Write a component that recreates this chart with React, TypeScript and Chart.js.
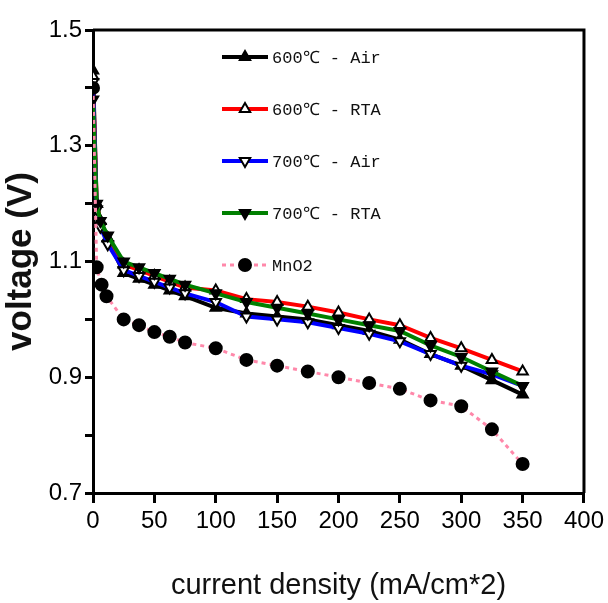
import React, { useEffect, useRef } from 'react';
import { Chart, registerables } from 'chart.js';
import { drawPoint } from 'chart.js/helpers';

Chart.register(...registerables);

// current density (mA/cm^2)
const currents = [0, 3, 6, 12, 25, 37.5, 50, 62.5, 75, 100, 125, 150, 175, 200, 225, 250, 275, 300, 325, 350];
const mno2Currents = [0, 3, 7, 11, 25, 37.5, 50, 62.5, 75, 100, 125, 150, 175, 200, 225, 250, 275, 300, 325, 350];

const v600Air = [1.43, 1.2, 1.17, 1.14, 1.08, 1.07, 1.06, 1.05, 1.04, 1.02, 1.01, 1.005, 1.0, 0.99, 0.98, 0.965, 0.94, 0.92, 0.895, 0.87];
const v600RTA = [1.42, 1.2, 1.17, 1.14, 1.095, 1.085, 1.075, 1.065, 1.055, 1.05, 1.035, 1.03, 1.022, 1.012, 1.0, 0.99, 0.968, 0.95, 0.93, 0.91];
const v700Air = [1.41, 1.19, 1.16, 1.13, 1.085, 1.075, 1.065, 1.055, 1.045, 1.03, 1.005, 1.0, 0.995, 0.985, 0.975, 0.962, 0.94, 0.92, 0.905, 0.885];
const v700RTA = [1.38, 1.2, 1.17, 1.145, 1.1, 1.09, 1.08, 1.07, 1.06, 1.045, 1.03, 1.02, 1.01, 1.0, 0.99, 0.98, 0.955, 0.935, 0.91, 0.885];
const vMnO2 = [1.4, 1.09, 1.06, 1.04, 1.0, 0.99, 0.978, 0.97, 0.96, 0.95, 0.93, 0.92, 0.91, 0.9, 0.89, 0.88, 0.86, 0.85, 0.81, 0.75];

const seriesLabels = ['600℃ - Air', '600℃ - RTA', '700℃ - Air', '700℃ - RTA', 'MnO2'];
const yLabeled = [0.7, 0.9, 1.1, 1.3, 1.5];

const toXY = (xs: number[], ys: number[]) => xs.map((x, i) => ({ x, y: ys[i] }));

const legendPlugin = {
  id: 'insideLegend',
  afterDraw(chart: any) {
    const { ctx, chartArea } = chart;
    const x0 = chartArea.left + 129;
    const y0 = chartArea.top + 27;
    const gap = 52;
    ctx.save();
    chart.data.datasets.forEach((ds: any, i: number) => {
      const y = y0 + i * gap;
      ctx.save();
      ctx.strokeStyle = ds.borderColor;
      ctx.lineWidth = ds.borderWidth;
      ctx.setLineDash(ds.borderDash || []);
      ctx.beginPath();
      ctx.moveTo(x0, y);
      ctx.lineTo(x0 + 46, y);
      ctx.stroke();
      ctx.restore();
      ctx.save();
      ctx.fillStyle = ds.pointBackgroundColor;
      ctx.strokeStyle = ds.pointBorderColor;
      ctx.lineWidth = ds.pointBorderWidth;
      drawPoint(ctx, { pointStyle: ds.pointStyle, rotation: ds.pointRotation || 0, radius: ds.pointRadius, borderWidth: ds.pointBorderWidth }, x0 + 23, y);
      ctx.restore();
      ctx.fillStyle = '#111';
      ctx.font = '17px "Liberation Mono", "DejaVu Sans Mono", monospace';
      ctx.textBaseline = 'middle';
      ctx.textAlign = 'left';
      ctx.fillText(ds.label, x0 + 50, y + 1);
    });
    ctx.restore();
  },
};

const framePlugin = {
  id: 'frame',
  afterDatasetsDraw(chart: any) {
    const { ctx, chartArea } = chart;
    ctx.save();
    ctx.strokeStyle = '#000';
    ctx.lineWidth = 3;
    ctx.beginPath();
    ctx.moveTo(chartArea.left, chartArea.top);
    ctx.lineTo(chartArea.right, chartArea.top);
    ctx.lineTo(chartArea.right, chartArea.bottom);
    ctx.stroke();
    ctx.restore();
  },
};

export default function App() {
  const ref = useRef<HTMLCanvasElement>(null);
  useEffect(() => {
    if (!ref.current) return;
    const common = {
      showLine: true,
      borderWidth: 4,
      pointRadius: 6,
      pointHoverRadius: 6,
      pointBorderColor: '#000',
      pointBorderWidth: 2,
      tension: 0,
    };
    const tickFont = { family: '"Liberation Sans", Arial, sans-serif', size: 24 };
    const chart = new Chart(ref.current, {
      type: 'scatter',
      data: {
        datasets: [
          { ...common, label: seriesLabels[0], data: toXY(currents, v600Air), borderColor: '#000', backgroundColor: '#000', pointStyle: 'triangle', pointBackgroundColor: '#000', pointRotation: 0, order: 4 },
          { ...common, label: seriesLabels[1], data: toXY(currents, v600RTA), borderColor: '#ff0000', backgroundColor: '#ff0000', pointStyle: 'triangle', pointBackgroundColor: '#fff', pointRotation: 0, order: 3 },
          { ...common, label: seriesLabels[2], data: toXY(currents, v700Air), borderColor: '#0000ff', backgroundColor: '#0000ff', pointStyle: 'triangle', pointBackgroundColor: '#fff', pointRotation: 180, order: 2 },
          { ...common, label: seriesLabels[3], data: toXY(currents, v700RTA), borderColor: '#008000', backgroundColor: '#008000', pointStyle: 'triangle', pointBackgroundColor: '#000', pointRotation: 180, order: 1 },
          { ...common, label: seriesLabels[4], data: toXY(mno2Currents, vMnO2), borderColor: '#ff88aa', backgroundColor: '#ff88aa', borderWidth: 3, borderDash: [4, 4], pointStyle: 'circle', pointBackgroundColor: '#000', pointRadius: 6, order: 0 },
        ] as any,
      },
      options: {
        animation: false,
        responsive: false,
        layout: { padding: { top: 30, right: 23, left: 0, bottom: 0 } },
        plugins: { legend: { display: false }, tooltip: { enabled: false } },
        scales: {
          x: {
            type: 'linear',
            min: 0,
            max: 400,
            ticks: { stepSize: 50, color: '#000', font: tickFont, padding: 4, maxRotation: 0 },
            grid: { drawOnChartArea: false, drawTicks: true, tickLength: 10, color: '#000', lineWidth: 3 },
            border: { display: true, color: '#000', width: 3 },
            title: { display: true, text: 'current density (mA/cm*2)', color: '#111', font: { family: '"Liberation Sans", Arial, sans-serif', size: 29 }, padding: { top: 10, bottom: 0 } },
            afterFit: (s: any) => { s.height = 110; },
          },
          y: {
            type: 'linear',
            min: 0.7,
            max: 1.5,
            ticks: {
              stepSize: 0.1,
              color: '#000',
              font: tickFont,
              padding: 3,
              callback: (v: any) => {
                const n = Math.round(Number(v) * 10) / 10;
                return yLabeled.some((l) => Math.abs(l - n) < 1e-6) ? n.toFixed(1) : '';
              },
            },
            grid: { drawOnChartArea: false, drawTicks: true, tickLength: 8, color: '#000', lineWidth: 3 },
            border: { display: true, color: '#000', width: 3 },
            title: { display: true, text: 'voltage (V)', color: '#111', font: { family: '"Liberation Sans", Arial, sans-serif', size: 35, weight: 'bold' }, padding: { top: 0, bottom: 2 } },
            afterFit: (s: any) => { s.width = 93; },
          },
        },
      } as any,
      plugins: [framePlugin, legendPlugin],
    });
    return () => chart.destroy();
  }, []);
  return (
    <div style={{ position: 'absolute', left: 0, top: 0, width: 608, height: 603, background: '#fff' }}>
      <canvas ref={ref} width={608} height={603} />
    </div>
  );
}
